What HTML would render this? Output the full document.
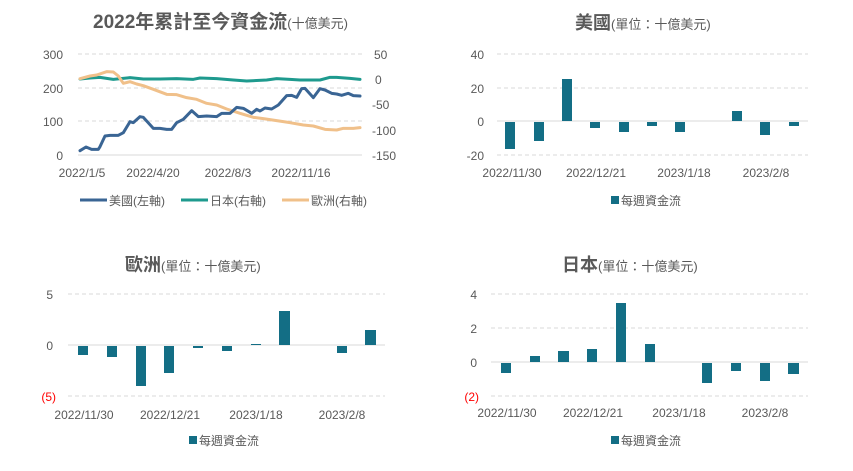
<!DOCTYPE html>
<html><head><meta charset="utf-8"><style>
html,body{margin:0;padding:0;background:#fff;}
svg{display:block;font-family:"Liberation Sans","Noto Sans CJK TC",sans-serif;}
</style></head><body>
<svg width="853" height="471" viewBox="0 0 853 471" xmlns="http://www.w3.org/2000/svg">
<rect width="853" height="471" fill="#fff"/>
<!-- ===== Top-left line chart ===== -->
<text x="93" y="28" font-size="19" font-weight="bold" fill="#595959">2022年累計至今資金流<tspan font-size="13" font-weight="normal">(十億美元)</tspan></text>
<g stroke="#d9d9d9" stroke-width="1" stroke-dasharray="4,3">
<line x1="78" y1="54" x2="362" y2="54"/><line x1="78" y1="88" x2="362" y2="88"/><line x1="78" y1="121" x2="362" y2="121"/>
</g>
<line x1="78" y1="155" x2="362" y2="155" stroke="#d9d9d9"/>
<g font-size="12" fill="#595959" text-anchor="end">
<text x="63" y="59">300</text><text x="63" y="93">200</text><text x="63" y="126">100</text><text x="63" y="160">0</text>
</g>
<g font-size="12" fill="#595959">
<text x="374" y="59">50</text><text x="375" y="84">0</text><text x="372" y="109">-50</text><text x="372" y="135">-100</text><text x="372" y="160">-150</text>
</g>
<g font-size="12" fill="#595959" text-anchor="middle">
<text x="82" y="177">2022/1/5</text><text x="153" y="177">2022/4/20</text><text x="228" y="177">2022/8/3</text><text x="301" y="177">2022/11/16</text>
</g>
<g transform="scale(0.33333)" fill="none" stroke-width="9" stroke-linejoin="round" stroke-linecap="round">
<polyline stroke="#1e9a8e" points="240,237 270,234 300,232 340,238 390,233 430,237 480,237 530,236 580,238 600,234 650,236 700,240 740,243 800,240 830,236 870,238 900,240 960,240 990,232 1010,232 1050,235 1080,238"/>
<polyline stroke="#f0c08a" points="240,236 270,228 290,225 320,215 340,216 355,228 370,250 390,245 410,252 430,257 460,268 500,283 530,284 560,293 590,298 620,310 650,315 680,327 720,340 760,352 790,356 830,362 870,368 910,375 940,378 975,388 1010,390 1030,385 1060,385 1080,383"/>
<polyline stroke="#3a6594" points="240,452 258,441 275,448 295,448 300,440 315,408 330,406 355,406 370,398 390,365 400,368 420,350 430,352 460,385 480,385 500,388 515,388 530,368 550,358 575,332 595,350 620,348 650,350 665,340 690,340 710,322 730,325 755,340 770,328 780,333 795,324 815,327 835,315 860,287 875,286 890,292 905,266 915,265 940,293 960,266 975,270 995,280 1010,282 1025,286 1045,280 1060,287 1080,288"/>
</g>
<g font-size="12" fill="#595959">
<line x1="80" y1="200" x2="107" y2="200" stroke="#3a6594" stroke-width="3"/><text x="109" y="205">美國(左軸)</text>
<line x1="181" y1="200" x2="208" y2="200" stroke="#1e9a8e" stroke-width="3"/><text x="210" y="205">日本(右軸)</text>
<line x1="282" y1="200" x2="309" y2="200" stroke="#f0c08a" stroke-width="3"/><text x="311" y="205">歐洲(右軸)</text>
</g>

<!-- ===== Top-right 美國 ===== -->
<text x="575" y="29" font-size="18" font-weight="bold" fill="#595959">美國<tspan font-size="13" font-weight="normal">(單位：十億美元)</tspan></text>
<g stroke="#d9d9d9" stroke-dasharray="4,3">
<line x1="497" y1="54" x2="808" y2="54"/><line x1="497" y1="88" x2="808" y2="88"/><line x1="497" y1="155" x2="808" y2="155"/>
</g>
<line x1="497" y1="121" x2="808" y2="121" stroke="#d9d9d9"/>
<g font-size="12" fill="#595959" text-anchor="end">
<text x="484" y="59">40</text><text x="484" y="93">20</text><text x="484" y="126">0</text><text x="484" y="160">-20</text>
</g>
<g fill="#136e85">
<rect x="505" y="122" width="10" height="27"/>
<rect x="534" y="122" width="10" height="19"/>
<rect x="562" y="79" width="10" height="42"/>
<rect x="590" y="122" width="10" height="6"/>
<rect x="619" y="122" width="10" height="10"/>
<rect x="647" y="122" width="10" height="4"/>
<rect x="675" y="122" width="10" height="10"/>
<rect x="732" y="111" width="10" height="10"/>
<rect x="760" y="122" width="10" height="13"/>
<rect x="789" y="122" width="10" height="4"/>
</g>
<g font-size="12" fill="#595959" text-anchor="middle">
<text x="512" y="177">2022/11/30</text><text x="596" y="177">2022/12/21</text><text x="684" y="177">2023/1/18</text><text x="766" y="177">2023/2/8</text>
</g>
<rect x="611" y="196" width="8" height="8" fill="#136e85"/><text x="621" y="205" font-size="12" fill="#595959">每週資金流</text>

<!-- ===== Bottom-left 歐洲 ===== -->
<text x="125" y="271" font-size="18" font-weight="bold" fill="#595959">歐洲<tspan font-size="13" font-weight="normal">(單位：十億美元)</tspan></text>
<g stroke="#d9d9d9" stroke-dasharray="4,3">
<line x1="68" y1="294" x2="385" y2="294"/><line x1="68" y1="396" x2="385" y2="396"/>
</g>
<line x1="68" y1="345" x2="385" y2="345" stroke="#d9d9d9"/>
<g font-size="12" text-anchor="end">
<text x="53" y="299" fill="#595959">5</text><text x="53" y="350" fill="#595959">0</text><text x="56" y="401" fill="#ff0000">(5)</text>
</g>
<g fill="#136e85">
<rect x="78" y="346" width="10" height="9"/>
<rect x="107" y="346" width="10" height="11"/>
<rect x="136" y="346" width="10" height="40"/>
<rect x="164" y="346" width="10" height="27"/>
<rect x="193" y="346" width="10" height="2"/>
<rect x="222" y="346" width="10" height="5"/>
<rect x="251" y="344" width="10" height="1"/>
<rect x="279" y="311" width="11" height="34"/>
<rect x="337" y="346" width="10" height="7"/>
<rect x="365" y="330" width="11" height="15"/>
</g>
<g font-size="12" fill="#595959" text-anchor="middle">
<text x="84" y="419">2022/11/30</text><text x="170" y="419">2022/12/21</text><text x="256" y="419">2023/1/18</text><text x="342" y="419">2023/2/8</text>
</g>
<rect x="189" y="436" width="8" height="8" fill="#136e85"/><text x="199" y="445" font-size="12" fill="#595959">每週資金流</text>

<!-- ===== Bottom-right 日本 ===== -->
<text x="562" y="271" font-size="18" font-weight="bold" fill="#595959">日本<tspan font-size="13" font-weight="normal">(單位：十億美元)</tspan></text>
<g stroke="#d9d9d9" stroke-dasharray="4,3">
<line x1="491" y1="294" x2="808" y2="294"/><line x1="491" y1="328" x2="808" y2="328"/><line x1="491" y1="396" x2="808" y2="396"/>
</g>
<line x1="491" y1="362" x2="808" y2="362" stroke="#d9d9d9"/>
<g font-size="12" text-anchor="end">
<text x="477" y="299" fill="#595959">4</text><text x="477" y="333" fill="#595959">2</text><text x="477" y="367" fill="#595959">0</text><text x="479" y="401" fill="#ff0000">(2)</text>
</g>
<g fill="#136e85">
<rect x="501" y="363" width="10" height="10"/>
<rect x="530" y="356" width="10" height="6"/>
<rect x="558" y="351" width="11" height="11"/>
<rect x="587" y="349" width="10" height="13"/>
<rect x="616" y="303" width="10" height="59"/>
<rect x="645" y="344" width="10" height="18"/>
<rect x="702" y="363" width="10" height="20"/>
<rect x="731" y="363" width="10" height="8"/>
<rect x="760" y="363" width="10" height="18"/>
<rect x="788" y="363" width="11" height="11"/>
</g>
<g font-size="12" fill="#595959" text-anchor="middle">
<text x="507" y="417">2022/11/30</text><text x="593" y="417">2022/12/21</text><text x="679" y="417">2023/1/18</text><text x="765" y="417">2023/2/8</text>
</g>
<rect x="611" y="436" width="8" height="8" fill="#136e85"/><text x="621" y="445" font-size="12" fill="#595959">每週資金流</text>
</svg>
</body></html>
